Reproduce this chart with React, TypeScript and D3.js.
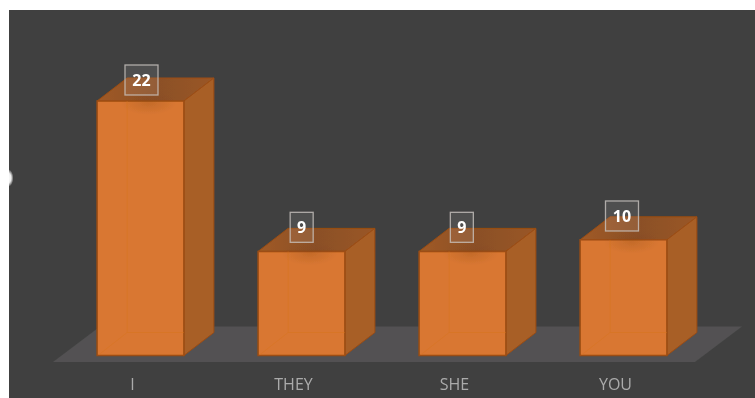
import React from "react";
import * as d3 from "d3";

const categories = ["I", "THEY", "SHE", "YOU"];
const values = [22, 9, 9, 10];

const W = 755, H = 398;
const baseY = 355.5;
const depthX = 30, depthY = 23;
const x = d3.scaleBand<string>().domain(categories).range([60, 704]).paddingInner(0.4608).paddingOuter(0.2304);
const y = d3.scaleLinear().domain([0, 22]).range([baseY, 101]);
const labelTop = d3.scaleLinear().domain([0, 22]).range([314.3, 65]);
const labelX = d3.scaleLinear().domain([140.5, 623.5]).range([141.5, 622]);
const poly = (p: number[][]) => (d3.line()(p as [number, number][]) ?? "") + "Z";

export default function App() {
  return (
    <svg width={W} height={H} style={{ position: "absolute", left: 0, top: 0 }} fontFamily="'Open Sans', sans-serif">
      <defs>
        <radialGradient id="dot">
          <stop offset="0" stopColor="#ffffff" />
          <stop offset="0.55" stopColor="#eeeeee" />
          <stop offset="1" stopColor="#ffffff" stopOpacity={0} />
        </radialGradient>
        <linearGradient id="topShade" x1="0" x2="1" y1="0" y2="0">
          <stop offset="0" stopColor="#a05a26" />
          <stop offset="0.5" stopColor="#8b5027" />
          <stop offset="1" stopColor="#9a5626" />
        </linearGradient>
        <radialGradient id="labelShadow">
          <stop offset="0" stopColor="#7a4015" stopOpacity={0.22} />
          <stop offset="1" stopColor="#7a4015" stopOpacity={0} />
        </radialGradient>
        <filter id="soft" x="-2%" y="-2%" width="104%" height="104%">
          <feGaussianBlur stdDeviation={0.4} />
        </filter>
      </defs>
      <rect width={W} height={H} fill="#ffffff" />
      <rect x={9} y={10} width={W - 9} height={H - 10} fill="#404040" />
      <ellipse cx={8} cy={178} rx={5.5} ry={9} fill="url(#dot)" />
      <rect x={0} y={165} width={9} height={26} fill="#ffffff" />
      <g filter="url(#soft)">
        <path d={poly([[53, 362], [695, 362], [742, 326.5], [100, 326.5]])} fill="#525152" />
        {categories.map((c, i) => {
          const x0 = x(c)!;
          const x1 = x0 + x.bandwidth();
          const t = y(values[i]);
          const cx = (x0 + x1) / 2;
          const lx = labelX(cx);
          const ly = labelTop(values[i]);
          const stroke = "#9c4d12";
          const wide = values[i] >= 10;
          return (
            <g key={c}>
              <path d={poly([[x0, t], [x1, t], [x1 + depthX, t - depthY], [x0 + depthX, t - depthY]])} fill="url(#topShade)" stroke={stroke} strokeWidth={1} />
              <path d={poly([[x1, t], [x1 + depthX, t - depthY], [x1 + depthX, baseY - depthY], [x1, baseY]])} fill="#a85e28" stroke={stroke} strokeWidth={1} />
              <path d={poly([[x0, t], [x1, t], [x1, baseY], [x0, baseY]])} fill="#d97731" stroke={stroke} strokeWidth={1.5} />
              <path d={`M${x0 + depthX},${t}V${baseY - depthY}M${x0 + depthX},${baseY - depthY}H${x1}M${x0 + depthX},${baseY - depthY}L${x0 + 2},${baseY - 1}`} fill="none" stroke="#d8741f" strokeWidth={1} opacity={0.45} />
              <ellipse cx={cx + 8} cy={t + 2} rx={28} ry={12} fill="url(#labelShadow)" />
              <rect x={lx - (wide ? 16.5 : 11.5)} y={ly} width={wide ? 33 : 23} height={30} fill="#ffffff" fillOpacity={0.08} stroke="#c9c4c0" strokeOpacity={0.8} strokeWidth={1.3} />
              <text x={lx} y={ly + 21} textAnchor="middle" fontSize={16} fontWeight={700} fill="#ffffff">{values[i]}</text>
              <text x={cx - 8} y={390} textAnchor="middle" fontSize={16} fill="#ababab">{c}</text>
            </g>
          );
        })}
      </g>
    </svg>
  );
}
